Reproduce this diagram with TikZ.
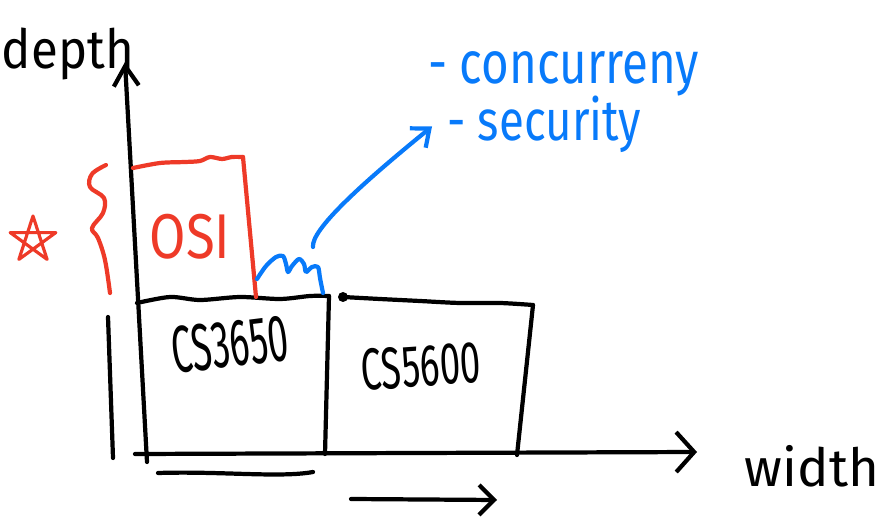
\documentclass[tikz,border=0pt]{standalone}
\usepackage{fontspec}
\setmainfont{Fira Sans}
\usetikzlibrary{arrows.meta,positioning}
\definecolor{sketchred}{RGB}{238,58,40}
\definecolor{sketchblue}{RGB}{8,122,250}
\begin{document}
\begin{tikzpicture}[x=0.02cm,y=-0.02cm,
        pen/.style={line width=2.4pt,line cap=round,line join=round},
        redpen/.style={pen,draw=sketchred},
        bluepen/.style={pen,draw=sketchblue},
        hand/.style={inner sep=0pt,font=\fontsize{#1}{#1}\selectfont},
        hand/.default=26]

    \useasboundingbox (0,0) rectangle (882,523);

    \coordinate (ybase) at (147,462);
    \coordinate (ytip) at (125,62);
    \coordinate (xbase) at (135,454);
    \coordinate (xtip) at (697,452);

    % axes
    \draw[pen,-{Straight Barb[length=4mm,width=5mm]}] (ybase) -- (ytip);
    \draw[pen,-{Straight Barb[length=3.6mm,width=8mm]}] (xbase) -- (xtip);
    \node[hand=28,yscale=1.1] (depth) at (68,54) {depth};
    \node[hand=30] (width) at (812,466) {width};

    % CS3650 block
    \coordinate (a2) at (329,296);
    \coordinate (a3) at (325,454);
    \draw[pen] plot[smooth] coordinates {(137,303) (170,297) (200,300) (240,297) (280,299) (310,296) (329,296)};
    \draw[pen] (a2) -- (a3);
    \node[hand=21,rotate=7,yscale=1.8] (cs3650) at (230,344) {CS3650};

    % CS5600 block
    \coordinate (b1) at (343,297);
    \coordinate (b2) at (533,305);
    \coordinate (b3) at (517,455);
    \fill (b1) circle[radius=0.1cm];
    \draw[pen] plot[smooth] coordinates {(343,297) (380,299) (420,301) (460,303) (500,303) (533,305)};
    \draw[pen] (b2) -- (b3);
    \node[hand=21,rotate=4,yscale=1.6] (cs5600) at (421,366) {CS5600};

    % OSI on top
    \coordinate (c1) at (243,157);
    \coordinate (c2) at (256,297);
    \draw[redpen] plot[smooth] coordinates {(133,168) (160,163) (185,162) (200,161) (210,157) (222,159) (232,157) (243,157)};
    \draw[redpen] (c1) -- (c2);
    \node[hand=30,text=sketchred,yscale=1.2] (osi) at (190,237) {OSI};
    \draw[redpen] plot[smooth,tension=0.6] coordinates {(106,165) (92,174) (90,187) (104,198) (103,213) (92,228) (98,238) (105,260) (110,293)};
    \draw[redpen,line width=1.8pt] (33,240) +(-90:24) -- +(54:24) -- +(198:24) -- +(-18:24) -- +(126:24) -- cycle;

    % side marks
    \draw[pen] (108,317) -- (113,458);
    \coordinate (u1) at (158,473);
    \coordinate (u2) at (313,472);
    \draw[pen] (u1) .. controls (220,471) and (280,478) .. (u2);
    \coordinate (w1) at (351,499);
    \coordinate (w2) at (497,500);
    \draw[pen,-{Straight Barb[length=3mm,width=6mm]}] (w1) -- (w2);

    % what grows next
    \draw[bluepen] plot[smooth] coordinates {(257,279) (266,266) (276,257) (283,256) (286,264) (288,272) (292,266) (299,259) (304,264) (306,272) (312,267) (318,267) (320,278) (323,293)};
    \node[hand=27,text=sketchblue,yscale=1.25,anchor=west] (concurreny) at (428,74) {- concurreny};
    \node[hand=26,text=sketchblue,yscale=1.25,anchor=west] (security) at (447,124) {- security};
    \coordinate (d1) at (313,247);
    \draw[bluepen,-{Straight Barb[length=3mm,width=5mm]}] (d1) .. controls (311,230) and (360,185) .. ([xshift=-0.3cm,yshift=-0.05cm]security.west);

\end{tikzpicture}
\end{document}
